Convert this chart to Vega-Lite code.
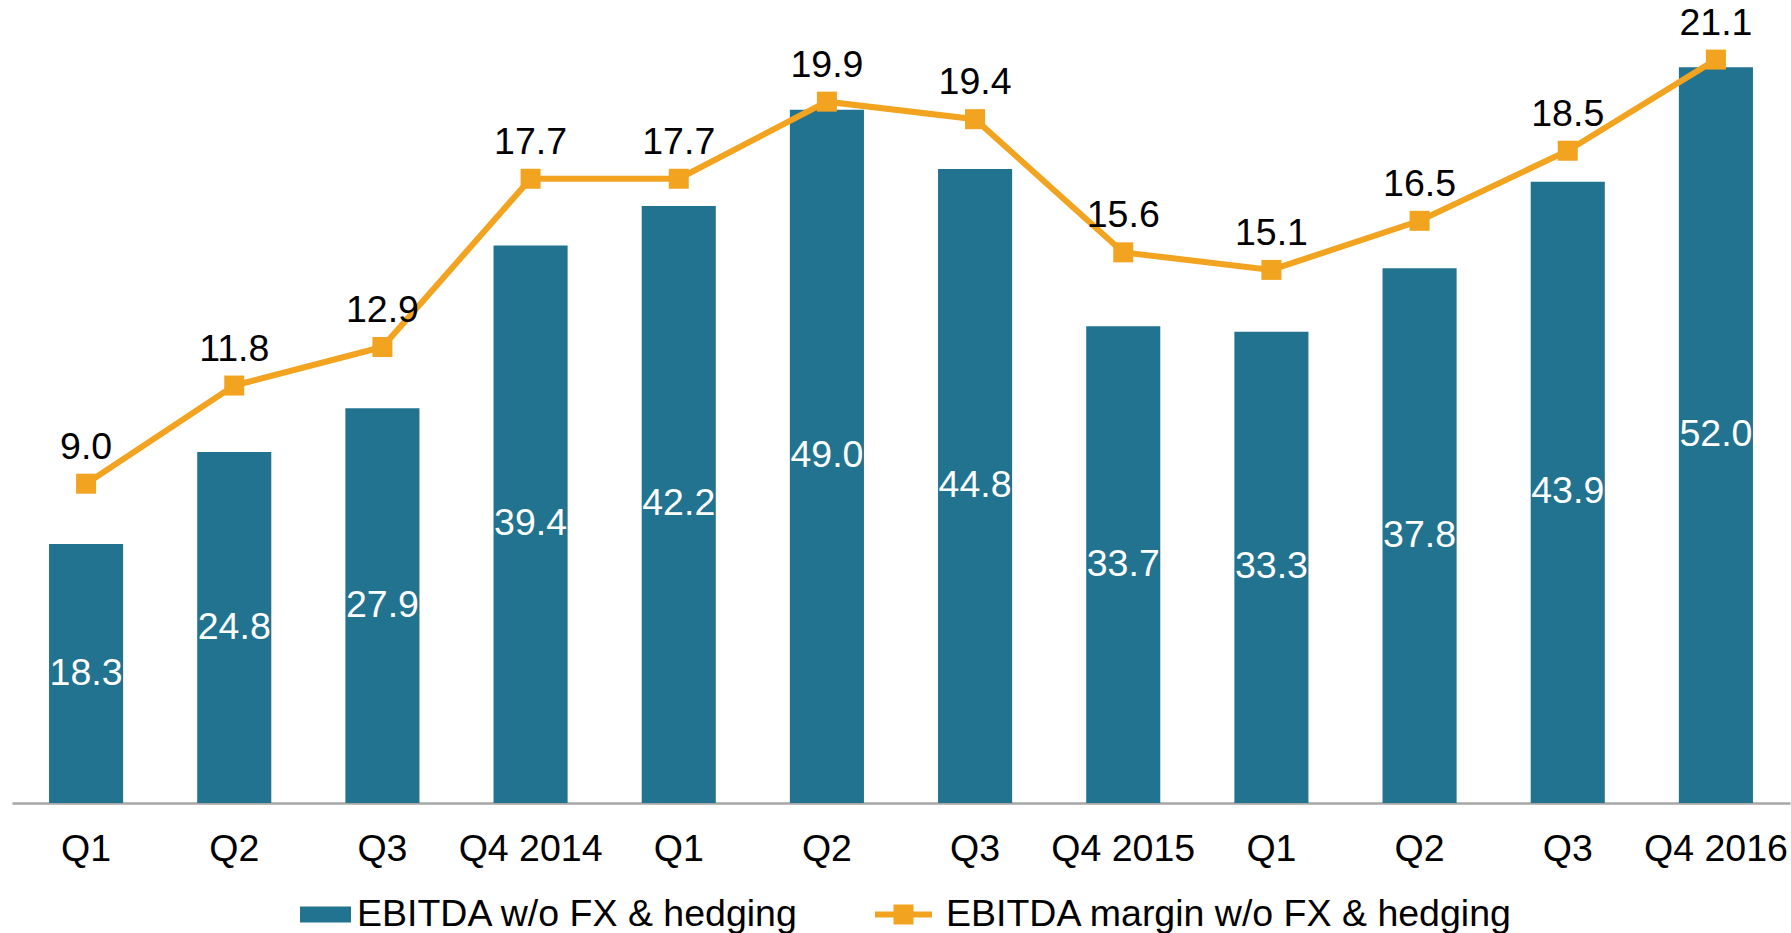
{
  "$schema": "https://vega.github.io/schema/vega-lite/v6.json",
  "width": 1778,
  "height": 803,
  "autosize": {"type": "none"},
  "padding": {"left": 12, "top": 0, "right": 1, "bottom": 130},
  "config": {
    "view": {"stroke": null},
    "font": "Liberation Sans",
    "legend": {"padding": 0}
  },
  "data": {
    "values": [
      {"period": "Q1 2014", "ebitda": 18.3, "margin": 9.0},
      {"period": "Q2 2014", "ebitda": 24.8, "margin": 11.8},
      {"period": "Q3 2014", "ebitda": 27.9, "margin": 12.9},
      {"period": "Q4 2014", "ebitda": 39.4, "margin": 17.7},
      {"period": "Q1 2015", "ebitda": 42.2, "margin": 17.7},
      {"period": "Q2 2015", "ebitda": 49.0, "margin": 19.9},
      {"period": "Q3 2015", "ebitda": 44.8, "margin": 19.4},
      {"period": "Q4 2015", "ebitda": 33.7, "margin": 15.6},
      {"period": "Q1 2016", "ebitda": 33.3, "margin": 15.1},
      {"period": "Q2 2016", "ebitda": 37.8, "margin": 16.5},
      {"period": "Q3 2016", "ebitda": 43.9, "margin": 18.5},
      {"period": "Q4 2016", "ebitda": 52.0, "margin": 21.1}
    ]
  },
  "encoding": {
    "x": {
      "field": "period",
      "type": "nominal",
      "sort": null,
      "scale": {"paddingInner": 0.5, "paddingOuter": 0.25},
      "axis": {
        "title": null,
        "labelExpr": "substring(datum.value, 0, 2) === 'Q4' ? datum.value : substring(datum.value, 0, 2)",
        "labelFontSize": 37.5,
        "labelFont": "Liberation Sans",
        "labelColor": "#000000",
        "labelAngle": 0,
        "labelPadding": 27,
        "labelOverlap": false,
        "labelBound": false,
        "ticks": false,
        "grid": false,
        "domainColor": "#a6a6a6",
        "domainWidth": 2.5
      }
    }
  },
  "layer": [
    {
      "layer": [
        {
          "mark": {"type": "bar"},
          "encoding": {
            "y": {"field": "ebitda", "type": "quantitative", "scale": {"domain": [0, 56.75], "nice": false, "zero": true}, "axis": null},
            "color": {
              "datum": "EBITDA w/o FX & hedging",
              "type": "nominal",
              "scale": {
                "domain": ["EBITDA w/o FX & hedging", "EBITDA margin w/o FX & hedging"],
                "range": ["#22738f", "#f2a31f"]
              },
              "legend": {
                "orient": "none",
                "legendX": 274,
                "legendY": 882,
                "direction": "horizontal",
                "title": null,
                "labelFontSize": 37.5,
                "labelFont": "Liberation Sans",
                "labelColor": "#000000",
                "labelLimit": 1000,
                "symbolSize": 4225,
                "labelOffset": 6,
                "columnPadding": 76,
                "encode": {
                  "symbols": {
                    "update": {
                      "shape": {"signal": "datum.value === 'EBITDA w/o FX & hedging' ? 'M-0.569,-0.246H1V0.246H-0.569Z' : 'M-1,-0.092H-0.431V-0.308H0.185V-0.092H0.754V0.092H0.185V0.308H-0.431V0.092H-1Z'"},
                      "fill": {"signal": "datum.value === 'EBITDA w/o FX & hedging' ? '#22738f' : '#f2a31f'"},
                      "stroke": {"value": "transparent"},
                      "strokeWidth": {"value": 0},
                      "opacity": {"value": 1},
                      "fillOpacity": {"value": 1},
                      "size": {"value": 4225}
                    }
                  }
                }
              }
            }
          }
        },
        {
          "transform": [{"calculate": "datum.ebitda / 2", "as": "mid"}],
          "mark": {"type": "text", "color": "#ffffff", "fontSize": 37.5, "font": "Liberation Sans", "baseline": "middle", "align": "center"},
          "encoding": {
            "y": {"field": "mid", "type": "quantitative"},
            "text": {"field": "ebitda", "type": "quantitative", "format": ".1f"}
          }
        }
      ]
    },
    {
      "layer": [
        {
          "mark": {
            "type": "line",
            "strokeWidth": 6,
            "point": {"shape": "square", "size": 400, "filled": true, "opacity": 1}
          },
          "encoding": {
            "y": {"field": "margin", "type": "quantitative", "scale": {"domain": [-0.11, 22.8], "nice": false, "zero": false}, "axis": null},
            "color": {"datum": "EBITDA margin w/o FX & hedging", "type": "nominal"}
          }
        },
        {
          "mark": {"type": "text", "color": "#000000", "fontSize": 37.5, "font": "Liberation Sans", "baseline": "middle", "align": "center", "dy": -36},
          "encoding": {
            "y": {"field": "margin", "type": "quantitative"},
            "text": {"field": "margin", "type": "quantitative", "format": ".1f"}
          }
        }
      ]
    }
  ],
  "resolve": {"scale": {"y": "independent"}}
}
